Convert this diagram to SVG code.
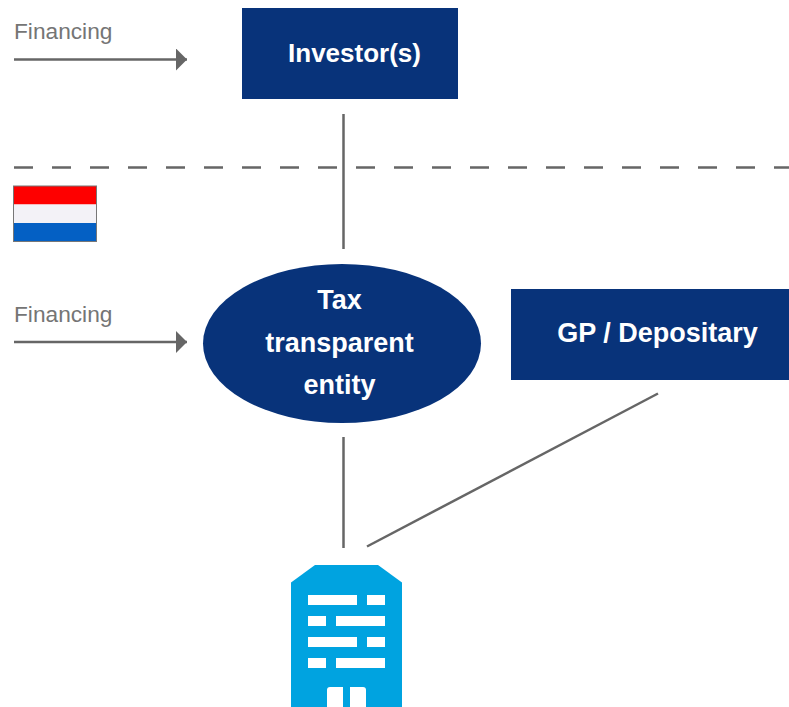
<svg xmlns="http://www.w3.org/2000/svg" width="789" height="707" viewBox="0 0 789 707">
<style>
.ln{stroke:#666;stroke-width:2.5;fill:none}
.box{fill:#08337a}
.w{font-family:"Liberation Sans",Arial,sans-serif;font-weight:bold;font-size:27px;fill:#fff;text-anchor:middle}
.g{font-family:"Liberation Sans",Arial,sans-serif;font-size:22.700px;fill:#757575}
</style>
<defs><marker id="a" markerUnits="userSpaceOnUse" markerWidth="12" markerHeight="22" refX="11" refY="11" orient="auto"><path d="M0 0L11 11L0 22Z" fill="#666"/></marker></defs>
<rect width="789" height="707" fill="#fff"/>
<g id="connectors">
<path class="ln" d="M14 59.500H187" marker-end="url(#a)"/>
<path class="ln" d="M14 342H187" marker-end="url(#a)"/>
<path class="ln" d="M343.500 114V249"/>
<path class="ln" d="M343.500 437V548"/>
<path class="ln" d="M367 546.500L658 393.500"/>
<path class="ln" d="M14 167.500H789" stroke-dasharray="19 19"/>
</g>
<g id="financing-top"><text class="g" x="14" y="39">Financing</text></g>
<g id="financing-nl"><text class="g" x="14" y="322">Financing</text></g>
<g id="investors"><rect class="box" x="242" y="8" width="216" height="91"/><text class="w" style="font-size:26px" x="354.500" y="62">Investor(s)</text></g>
<g id="flag"><rect x="14" y="186" width="82.500" height="18.500" fill="#fe0000"/><rect x="14" y="204.500" width="82.500" height="18.500" fill="#f3f2f7"/><rect x="14" y="223" width="82.500" height="18.500" fill="#0460c4"/><rect x="13.500" y="186" width="83" height="55.500" fill="none" stroke="#777" stroke-width="1"/></g>
<g id="entity"><ellipse class="box" cx="342" cy="343.500" rx="139" ry="79.500"/><text class="w" x="339.500" y="308.500">Tax</text><text class="w" x="339.500" y="351.500">transparent</text><text class="w" x="339.500" y="394">entity</text></g>
<g id="gp"><rect class="box" x="511" y="289" width="278" height="91"/><text class="w" x="657.500" y="342">GP / Depositary</text></g>
<g id="building">
<path d="M291 582.500L315 565H378L402 582.500V707H291Z" fill="#00a3e0"/>
<g fill="#fff"><rect x="308" y="595" width="49" height="10"/><rect x="367" y="595" width="18" height="10"/><rect x="308" y="616" width="18" height="10"/><rect x="336" y="616" width="49" height="10"/><rect x="308" y="637" width="49" height="10"/><rect x="367" y="637" width="18" height="10"/><rect x="308" y="658" width="18" height="10"/><rect x="336" y="658" width="49" height="10"/>
<path d="M327 707V690Q327 687 330 687H343V707Z"/><path d="M350 707V687H363Q366 687 366 690V707Z"/></g>
</g>
</svg>
